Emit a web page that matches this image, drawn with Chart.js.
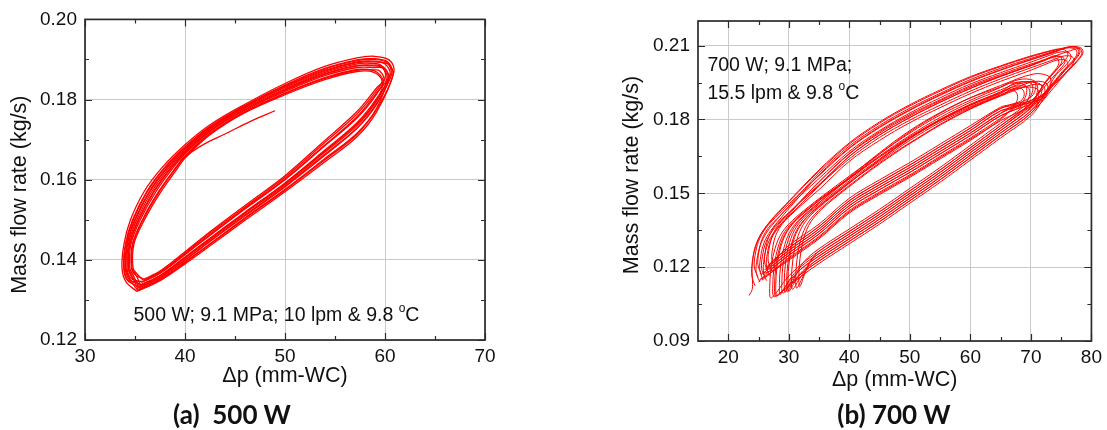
<!DOCTYPE html>
<html>
<head>
<meta charset="utf-8">
<script src="https://cdn.jsdelivr.net/npm/chart.js@4.4.1/dist/chart.umd.min.js"></script>
<style>
  body { margin: 0; width: 1107px; height: 430px; background: #fff; position: relative; overflow: hidden; }
  .panel { position: absolute; top: 0; height: 400px; }
  #wrapA { left: 0; width: 520px; }
  #wrapB { left: 600px; width: 507px; }
  .caption { position: absolute; top: 398px; width: 240px; text-align: center; line-height: 32px;
             font: bold 26px Lato, "Open Sans", sans-serif; white-space: pre; color: #111; }
</style>
</head>
<body>
<div class="panel" id="wrapA"><canvas id="chartA"></canvas></div>
<div class="panel" id="wrapB"><canvas id="chartB"></canvas></div>
<div class="caption" style="left:112px">(a)  500 W</div>
<div class="caption" style="left:774px">(b) 700 W</div>
<script>
// axis ticks
const aXTicks = [30, 40, 50, 60, 70];
const aXMinor = [35, 45, 55, 65];
const aYTicks = [0.12, 0.14, 0.16, 0.18, 0.20];
const aYMinor = [0.13, 0.15, 0.17, 0.19];
const bXTicks = [20, 30, 40, 50, 60, 70, 80];
const bXMinor = [25, 35, 45, 55, 65, 75];
const bYTicks = [0.09, 0.12, 0.15, 0.18, 0.21];
const bYMinor = [0.105, 0.135, 0.165, 0.195];

// (a) 500 W : [dp mm-WC, mass flow kg/s]
const aTail = [[49.0,0.1772],[46.5,0.1745],[44.0,0.1714],[42.0,0.1690],[40.6,0.1668],[39.6,0.1648]];
const aLoop1 = [[35.2,0.1321],[37.5,0.1348],[40,0.1390],[42.5,0.1435],[45.9,0.1497],[50,0.1570],[53.9,0.1643],[57.2,0.1707],[59.2,0.1771],[60.9,0.1870],[60.4,0.1899],[58.9,0.1908],[57.2,0.1904],[53.9,0.1882],[50,0.1840],[45.9,0.1787],[42.5,0.1737],[40,0.1687],[37.7,0.1630],[35.9,0.1570],[34.55,0.1500],[33.9,0.1440],[33.7,0.1380],[34.1,0.1345],[35.2,0.1321]];
const aLoop2 = [[35.6,0.1338],[37.5,0.1361],[40,0.1407],[42.5,0.1454],[45.9,0.1517],[50,0.1592],[53.9,0.1672],[57.2,0.1742],[59.2,0.1804],[60.5,0.1863],[60.0,0.1889],[58.9,0.1896],[57.2,0.1894],[53.9,0.1872],[50,0.1832],[45.9,0.1781],[42.5,0.1730],[40,0.1677],[38.18,0.1630],[36.41,0.1570],[34.97,0.1500],[34.2,0.1440],[34.03,0.1380],[34.43,0.1351],[35.6,0.1338]];
const aLoop3 = [[35.31,0.1326],[37.5,0.1352],[40,0.1395],[42.5,0.1440],[45.9,0.1503],[50,0.1576],[53.9,0.1651],[57.2,0.1716],[59.2,0.1780],[60.2,0.1855],[59.7,0.1880],[58.9,0.1884],[57.2,0.1884],[53.9,0.1862],[50,0.1823],[45.9,0.1774],[42.5,0.1722],[40,0.1667],[38.66,0.1630],[36.92,0.1570],[35.39,0.1500],[34.5,0.1440],[34.36,0.1380],[34.76,0.1357],[35.31,0.1326]];
const aLoop4 = [[35.83,0.1349],[37.5,0.1370],[40,0.1417],[42.5,0.1467],[45.9,0.1530],[50,0.1606],[53.9,0.1691],[57.2,0.1764],[59.2,0.1824],[59.7,0.1847],[58.9,0.1868],[57.2,0.1870],[53.9,0.1849],[50,0.1812],[45.9,0.1766],[42.5,0.1712],[40,0.1654],[39.3,0.1630],[37.6,0.1570],[35.95,0.1500],[34.9,0.1440],[34.8,0.1380],[35.2,0.1365],[35.83,0.1349]];
const aLoop5 = [[35.45,0.1332],[37.5,0.1356],[40,0.1400],[42.5,0.1447],[45.9,0.1510],[50,0.1584],[53.9,0.1662],[57.2,0.1729],[59.2,0.1792],[60.7,0.1866],[60.25,0.1894],[58.9,0.1902],[57.2,0.1899],[53.9,0.1877],[50,0.1836],[45.9,0.1784],[42.5,0.1733],[40,0.1682],[37.94,0.1630],[36.16,0.1570],[34.76,0.1500],[34.05,0.1440],[33.87,0.1380],[34.27,0.1348],[35.45,0.1332]];
const aLoop6 = [[35.9,0.1352],[37.5,0.1372],[40,0.1420],[42.5,0.1470],[45.9,0.1534],[50,0.1610],[53.9,0.1696],[57.2,0.1770],[59.2,0.1830],[59.9,0.1849],[59.45,0.1872],[58.9,0.1874],[57.2,0.1875],[53.9,0.1854],[50,0.1816],[45.9,0.1769],[42.5,0.1716],[40,0.1659],[39.06,0.1630],[37.35,0.1570],[35.74,0.1500],[34.75,0.1440],[34.64,0.1380],[35.04,0.1362],[35.9,0.1352]];
const aLoop7 = [[35.73,0.1344],[37.5,0.1366],[40,0.1413],[42.5,0.1461],[45.9,0.1525],[50,0.1600],[53.9,0.1683],[57.2,0.1754],[59.2,0.1815],[60.05,0.1859],[59.6,0.1885],[58.9,0.1890],[57.2,0.1889],[53.9,0.1867],[50,0.1827],[45.9,0.1778],[42.5,0.1726],[40,0.1672],[38.42,0.1630],[36.67,0.1570],[35.18,0.1500],[34.35,0.1440],[34.2,0.1380],[34.6,0.1354],[35.73,0.1344]];
const aLoop8 = [[35.41,0.1330],[37.5,0.1355],[40,0.1399],[42.5,0.1446],[45.9,0.1508],[50,0.1582],[53.9,0.1659],[57.2,0.1728],[59.2,0.1789],[60.4,0.1853],[59.95,0.1877],[58.9,0.1880],[57.2,0.1880],[53.9,0.1859],[50,0.1820],[45.9,0.1772],[42.5,0.1720],[40,0.1664],[38.82,0.1630],[37.09,0.1570],[35.53,0.1500],[34.6,0.1440],[34.47,0.1380],[34.87,0.1359],[35.41,0.1330]];
const aLoop9 = [[35.76,0.1346],[37.5,0.1367],[40,0.1414],[42.5,0.1463],[45.9,0.1527],[50,0.1602],[53.9,0.1685],[57.2,0.1757],[59.2,0.1818],[60.6,0.1865],[60.15,0.1893],[58.9,0.1900],[57.2,0.1897],[53.9,0.1875],[50,0.1834],[45.9,0.1783],[42.5,0.1732],[40,0.1680],[38.02,0.1630],[36.24,0.1570],[34.83,0.1500],[34.1,0.1440],[33.92,0.1380],[34.32,0.1349],[35.76,0.1346]];
const aLoop10 = [[35.55,0.1337],[37.5,0.1360],[40,0.1405],[42.5,0.1453],[45.9,0.1516],[50,0.1590],[53.9,0.1670],[57.2,0.1739],[59.2,0.1801],[59.8,0.1848],[58.9,0.1872],[57.2,0.1873],[53.9,0.1852],[50,0.1815],[45.9,0.1768],[42.5,0.1715],[40,0.1657],[39.14,0.1630],[37.43,0.1570],[35.81,0.1500],[34.8,0.1440],[34.69,0.1380],[35.09,0.1363],[35.55,0.1337]];
const aLoop11 = [[35.52,0.1335],[37.5,0.1359],[40,0.1404],[42.5,0.1451],[45.9,0.1514],[50,0.1588],[53.9,0.1667],[57.2,0.1735],[59.2,0.1798],[60.3,0.1856],[59.85,0.1881],[58.9,0.1886],[57.2,0.1885],[53.9,0.1864],[50,0.1825],[45.9,0.1775],[42.5,0.1723],[40,0.1669],[38.58,0.1630],[36.84,0.1570],[35.32,0.1500],[34.45,0.1440],[34.31,0.1380],[34.71,0.1356],[35.52,0.1335]];
const aLoop12 = [[35.27,0.1324],[37.5,0.1350],[40,0.1393],[42.5,0.1439],[45.9,0.1501],[50,0.1574],[53.9,0.1648],[57.2,0.1713],[59.2,0.1777],[60.8,0.1861],[60.35,0.1888],[58.9,0.1894],[57.2,0.1892],[53.9,0.1870],[50,0.1830],[45.9,0.1780],[42.5,0.1728],[40,0.1675],[38.26,0.1630],[36.5,0.1570],[35.04,0.1500],[34.25,0.1440],[34.09,0.1380],[34.49,0.1352],[35.27,0.1324]];

// (b) 700 W : [dp mm-WC, mass flow kg/s]
const bCycle1 = [[23.45,0.1085],[23.95,0.1110],[24.0,0.1150],[23.9,0.1195],[24.1,0.1245],[24.7,0.1300],[25.8,0.1350],[27.5,0.1400],[30,0.1465],[35,0.1590],[40,0.1700],[45,0.1785],[50,0.1855],[55,0.1915],[60,0.1970],[65,0.2015],[70,0.2055],[74,0.2082],[76.8,0.2096],[78.3,0.2090],[78.6,0.2070],[77.8,0.2040],[76.2,0.1998],[74,0.1945],[70,0.1865],[65,0.1775],[60,0.1685],[55,0.1595],[50,0.1510],[45,0.1425],[40,0.1345],[35,0.1265],[32,0.1210],[29.5,0.1150],[28,0.1098],[27.0,0.1075],[26.85,0.1120],[27.05,0.1190],[27.55,0.1260],[28.5,0.1325],[30,0.1375],[32.5,0.1430],[35.5,0.1488],[40,0.1570],[45,0.1660],[50,0.1745],[55,0.1818],[60,0.1878],[65,0.1930],[68,0.1962],[70.5,0.1958],[70.8,0.1930],[70.1,0.1893],[67,0.1855],[65,0.1825],[60,0.1745],[55,0.1670],[50,0.1595],[45,0.1525],[40,0.1450],[35,0.1345],[30,0.1258],[27.5,0.1210],[25.5,0.1170]];
const bCycle2 = [[24.9,0.1160],[24.3,0.1200],[24.45,0.1250],[25.0,0.1305],[26.1,0.1355],[27.8,0.1402],[30,0.1456],[35,0.1572],[40,0.1682],[45,0.1767],[50,0.1837],[55,0.1898],[60,0.1953],[65,0.2000],[70,0.2042],[74,0.2074],[75.8,0.2090],[77.3,0.2086],[77.6,0.2066],[76.8,0.2036],[75.2,0.1995],[73,0.1930],[70,0.1845],[65,0.1755],[60,0.1665],[55,0.1575],[50,0.1490],[45,0.1405],[40,0.1325],[35,0.1245],[32,0.1192],[30,0.1140],[28.9,0.1102],[28.0,0.1085],[27.85,0.1130],[28.05,0.1200],[28.55,0.1270],[29.5,0.1335],[31,0.1385],[33.5,0.1440],[36.5,0.1498],[40,0.1558],[45,0.1648],[50,0.1730],[55,0.1800],[60,0.1860],[65,0.1912],[69,0.1950],[71.5,0.1945],[71.8,0.1915],[71.1,0.1880],[68,0.1860],[65,0.1845],[60,0.1765],[55,0.1690],[50,0.1615],[45,0.1545],[40,0.1470],[35,0.1365],[30,0.1278],[27.5,0.1228],[26,0.1188]];
const bCycle3 = [[25.5,0.1170],[24.9,0.1210],[25.05,0.1260],[25.6,0.1315],[26.7,0.1362],[28.4,0.1405],[30.5,0.1458],[35,0.1560],[40,0.1670],[45,0.1755],[50,0.1826],[55,0.1888],[60,0.1944],[65,0.1990],[70,0.2033],[73,0.2060],[74.8,0.2074],[76.3,0.2071],[76.6,0.2051],[75.8,0.2022],[74.2,0.1982],[72,0.1895],[70,0.1825],[65,0.1735],[60,0.1645],[55,0.1555],[50,0.1470],[45,0.1385],[40,0.1305],[35,0.1225],[32,0.1172],[30.2,0.1125],[29.0,0.1095],[28.85,0.1140],[29.05,0.1210],[29.55,0.1280],[30.5,0.1345],[32,0.1395],[34.5,0.1450],[37.5,0.1515],[40,0.1565],[45,0.1665],[50,0.1755],[55,0.1828],[60,0.1888],[65,0.1932],[66.5,0.1948],[69,0.1940],[69.3,0.1910],[68.6,0.1872],[66,0.1825],[65,0.1805],[60,0.1725],[55,0.1650],[50,0.1575],[45,0.1505],[40,0.1430],[35,0.1325],[30,0.1238],[27.5,0.1190],[26,0.1175]];
const bCycle4 = [[26.1,0.1155],[25.5,0.1195],[25.65,0.1245],[26.2,0.1300],[27.3,0.1348],[29,0.1395],[31.5,0.1457],[35,0.1535],[40,0.1650],[45,0.1737],[50,0.1808],[55,0.1870],[60,0.1926],[65,0.1975],[70,0.2018],[72.5,0.2042],[73.8,0.2055],[75.3,0.2052],[75.6,0.2032],[74.8,0.2004],[73.4,0.1965],[72,0.1925],[70,0.1875],[65,0.1785],[60,0.1695],[55,0.1605],[50,0.1520],[45,0.1435],[40,0.1355],[35,0.1275],[32.5,0.1222],[31.0,0.1160],[29.8,0.1100],[29.65,0.1145],[29.85,0.1215],[30.35,0.1285],[31.3,0.1350],[32.8,0.1400],[35.3,0.1455],[38.3,0.1513],[40,0.1545],[45,0.1630],[50,0.1715],[55,0.1788],[60,0.1848],[65,0.1898],[70,0.1952],[72.5,0.1948],[72.8,0.1915],[72.2,0.1890],[70,0.1868],[65,0.1835],[60,0.1755],[55,0.1680],[50,0.1605],[45,0.1535],[40,0.1460],[35,0.1355],[30,0.1268],[27.5,0.1220],[26.2,0.1192]];
const bCycle5 = [[26.6,0.1180],[26.0,0.1220],[26.15,0.1270],[26.7,0.1323],[27.8,0.1370],[29.5,0.1410],[32,0.1466],[35,0.1532],[40,0.1640],[45,0.1727],[50,0.1797],[55,0.1858],[60,0.1915],[65,0.1965],[70,0.2010],[74,0.2045],[75.5,0.2058],[76.8,0.2055],[77.1,0.2035],[76.3,0.2005],[74.7,0.1965],[72.5,0.1908],[70,0.1835],[65,0.1745],[60,0.1655],[55,0.1565],[50,0.1480],[45,0.1395],[40,0.1315],[35,0.1235],[33,0.1195],[31.7,0.1150],[30.6,0.1110],[30.45,0.1155],[30.65,0.1225],[31.15,0.1295],[32.1,0.1360],[33.6,0.1410],[36.1,0.1465],[39.1,0.1523],[42,0.1580],[45,0.1635],[50,0.1725],[55,0.1800],[60,0.1862],[65,0.1912],[67.5,0.1950],[70,0.1948],[70.3,0.1918],[69.6,0.1882],[68,0.1848],[65,0.1815],[60,0.1735],[55,0.1660],[50,0.1585],[45,0.1515],[40,0.1440],[35,0.1335],[30,0.1248],[28,0.1208],[26.8,0.1190]];
const bCycle6 = [[27.2,0.1185],[26.6,0.1225],[26.75,0.1275],[27.3,0.1328],[28.4,0.1375],[30.1,0.1420],[32.5,0.1483],[35,0.1545],[40,0.1660],[45,0.1745],[50,0.1815],[55,0.1876],[60,0.1932],[65,0.1978],[70,0.2020],[72,0.2040],[73.2,0.2050],[74.4,0.2046],[74.6,0.2026],[73.9,0.1998],[72.6,0.1960],[71,0.1898],[70,0.1862],[65,0.1765],[60,0.1675],[55,0.1585],[50,0.1500],[45,0.1415],[40,0.1335],[35,0.1255],[33.5,0.1222],[32.3,0.1160],[31.3,0.1115],[31.15,0.1160],[31.35,0.1230],[31.85,0.1300],[32.8,0.1365],[34.3,0.1415],[36.8,0.1470],[39.8,0.1528],[43,0.1588],[47,0.1658],[50,0.1705],[55,0.1780],[60,0.1845],[65,0.1898],[67,0.1925],[68.5,0.1925],[68.9,0.1900],[68.3,0.1875],[66.5,0.1860],[65,0.1850],[60,0.1775],[55,0.1700],[50,0.1625],[45,0.1555],[40,0.1480],[35,0.1375],[30,0.1288],[28.5,0.1250],[27.3,0.1215]];
const bCycle7 = [[27.8,0.1190],[27.2,0.1230],[27.35,0.1280],[27.9,0.1332],[29,0.1378],[30.7,0.1420],[33,0.1472],[35,0.1515],[40,0.1630],[45,0.1715],[50,0.1787],[55,0.1848],[60,0.1905],[65,0.1955],[70,0.2000],[73,0.2030],[74.5,0.2042],[75.8,0.2040],[76.1,0.2020],[75.3,0.1992],[73.8,0.1945],[72,0.1880],[70,0.1815],[65,0.1725],[60,0.1635],[55,0.1545],[50,0.1460],[45,0.1375],[40,0.1295],[35,0.1215],[32,0.1162],[29.8,0.1118],[28.4,0.1092],[27.5,0.1080],[27.35,0.1125],[27.55,0.1195],[28.05,0.1265],[29,0.1330],[30.5,0.1380],[33,0.1435],[36,0.1493],[40,0.1562],[45,0.1648],[50,0.1725],[55,0.1795],[60,0.1852],[65,0.1900],[68.5,0.1930],[71,0.1925],[71.3,0.1898],[70.6,0.1862],[68,0.1830],[65,0.1795],[60,0.1715],[55,0.1640],[50,0.1565],[45,0.1495],[40,0.1420],[35,0.1315],[30,0.1228],[27.5,0.1185],[25.2,0.1150]];
const bCycle8 = [[25.2,0.1140],[24.6,0.1180],[24.75,0.1232],[25.3,0.1290],[26.4,0.1343],[28.1,0.1395],[30.4,0.1458],[35,0.1582],[40,0.1692],[45,0.1776],[50,0.1846],[55,0.1906],[60,0.1962],[65,0.2008],[70,0.2048],[74,0.2078],[76.3,0.2095],[77.8,0.2092],[78.1,0.2072],[77.3,0.2042],[75.7,0.2000],[73.5,0.1940],[70,0.1855],[65,0.1765],[60,0.1675],[55,0.1585],[50,0.1500],[45,0.1415],[40,0.1335],[35,0.1255],[32,0.1202],[30,0.1145],[28.6,0.1090],[28.45,0.1135],[28.65,0.1205],[29.15,0.1275],[30.1,0.1340],[31.6,0.1390],[34.1,0.1445],[37.1,0.1503],[40,0.1560],[45,0.1660],[50,0.1750],[55,0.1825],[60,0.1888],[65,0.1938],[70.5,0.1985],[73,0.1975],[73.3,0.1945],[72.6,0.1905],[70,0.1878],[65,0.1825],[60,0.1745],[55,0.1670],[50,0.1595],[45,0.1525],[40,0.1450],[35,0.1345],[30,0.1258],[27.5,0.1210],[25.8,0.1175]];
const bCycle9 = [[25.7,0.1150],[25.2,0.1190],[25.35,0.1242],[25.9,0.1298],[27.0,0.1348],[28.7,0.1400],[30.8,0.1460],[35,0.1575],[40,0.1685],[45,0.1770],[50,0.1840],[55,0.1901],[60,0.1956],[65,0.2002],[70,0.2044],[74,0.2076],[76.2,0.2093],[77.6,0.2090],[77.9,0.2070],[77.1,0.2040],[75.5,0.1998],[73.3,0.1935],[70,0.1835],[65,0.1745],[60,0.1655],[55,0.1565],[50,0.1480],[45,0.1395],[40,0.1315],[35,0.1235],[32.3,0.1185],[31,0.1140],[30.0,0.1102],[29.85,0.1147],[30.05,0.1217],[30.55,0.1287],[31.5,0.1352],[33,0.1402],[35.5,0.1457],[38.5,0.1515],[41.5,0.1572],[45,0.1636],[50,0.1722],[55,0.1796],[60,0.1858],[65,0.1908],[67.5,0.1935],[69.5,0.1930],[69.8,0.1902],[69.1,0.1868],[67,0.1845],[65,0.1835],[60,0.1755],[55,0.1680],[50,0.1605],[45,0.1535],[40,0.1460],[35,0.1355],[30,0.1268],[27.5,0.1220],[26.3,0.1190]];
const bCycle10 = [[24.4,0.1125],[23.9,0.1165],[24.0,0.1220],[24.5,0.1282],[25.5,0.1338],[27.2,0.1395],[29.5,0.1455],[35,0.1595],[40,0.1705],[45,0.1790],[50,0.1860],[55,0.1920],[60,0.1974],[65,0.2018],[70,0.2058],[73,0.2078],[74.5,0.2086],[75.8,0.2080],[76.1,0.2060],[75.3,0.2030],[73.8,0.1990],[71.8,0.1930],[70,0.1865],[65,0.1775],[60,0.1685],[55,0.1595],[50,0.1510],[45,0.1425],[40,0.1345],[35,0.1265],[33.6,0.1225],[32.6,0.1170],[31.8,0.1120],[31.65,0.1165],[31.85,0.1235],[32.35,0.1305],[33.3,0.1370],[34.8,0.1420],[37.3,0.1475],[40.3,0.1533],[43.5,0.1593],[47.5,0.1662],[50,0.1702],[55,0.1777],[60,0.1842],[65,0.1895],[70,0.1940],[72,0.1938],[72.3,0.1908],[71.6,0.1874],[70,0.1862],[65,0.1815],[60,0.1735],[55,0.1660],[50,0.1585],[45,0.1515],[40,0.1440],[35,0.1335],[30,0.1248],[27.5,0.1200],[25,0.1140]];
const bCycle11 = [[26.8,0.1165],[26.3,0.1205],[26.45,0.1255],[27.0,0.1308],[28.1,0.1355],[29.8,0.1402],[32.3,0.1463],[35,0.1530],[40,0.1650],[45,0.1737],[50,0.1808],[55,0.1870],[60,0.1926],[65,0.1975],[70,0.2020],[74,0.2058],[76.6,0.2080],[78.1,0.2088],[78.4,0.2068],[77.6,0.2038],[76,0.1995],[73.8,0.1930],[70,0.1825],[65,0.1735],[60,0.1645],[55,0.1555],[50,0.1470],[45,0.1385],[40,0.1305],[35,0.1225],[32,0.1172],[29.6,0.1118],[28.5,0.1092],[27.8,0.1082],[27.65,0.1127],[27.85,0.1197],[28.35,0.1267],[29.3,0.1332],[30.8,0.1382],[33.3,0.1437],[36.3,0.1495],[40,0.1562],[45,0.1652],[50,0.1735],[55,0.1808],[60,0.1870],[65,0.1920],[68.5,0.1952],[70.8,0.1948],[71.1,0.1918],[70.4,0.1880],[68,0.1866],[65,0.1845],[60,0.1765],[55,0.1690],[50,0.1615],[45,0.1545],[40,0.1470],[35,0.1365],[30,0.1278],[27.5,0.1230],[26.5,0.1205]];
const bCycle12 = [[26.3,0.1145],[25.8,0.1185],[25.95,0.1237],[26.5,0.1293],[27.6,0.1343],[29.3,0.1392],[31.7,0.1460],[35,0.1548],[40,0.1662],[45,0.1750],[50,0.1820],[55,0.1880],[60,0.1937],[65,0.1983],[70,0.2025],[72.5,0.2045],[73.7,0.2058],[74.9,0.2055],[75.1,0.2035],[74.4,0.2007],[73.0,0.1968],[71.3,0.1910],[70,0.1850],[65,0.1755],[60,0.1665],[55,0.1575],[50,0.1490],[45,0.1405],[40,0.1325],[35,0.1245],[32,0.1192],[30.3,0.1140],[29.4,0.1098],[29.25,0.1143],[29.45,0.1213],[29.95,0.1283],[30.9,0.1348],[32.4,0.1398],[34.9,0.1453],[37.9,0.1511],[40.5,0.1560],[45,0.1640],[50,0.1725],[55,0.1798],[60,0.1858],[65,0.1905],[66.2,0.1920],[67.5,0.1912],[67.8,0.1885],[67.1,0.1852],[65,0.1800],[60,0.1720],[55,0.1645],[50,0.1570],[45,0.1500],[40,0.1425],[35,0.1320],[30,0.1233],[27.5,0.1185],[25.6,0.1148]];

const FONT = '"Liberation Sans", Arial, sans-serif';

// box round the plot with inward major / minor ticks on all four sides
const framePlugin = {
  id: 'frame',
  afterDatasetsDraw(chart, args, opts) {
    const {ctx, chartArea: {left, top, right, bottom}, scales: {x, y}} = chart;
    ctx.save();
    ctx.strokeStyle = '#2b2b2b';
    ctx.lineWidth = 1.2;
    ctx.beginPath();
    const xt = (vals, len) => vals.forEach(v => {
      const px = Math.round(x.getPixelForValue(v)) + 0.5;
      ctx.moveTo(px, bottom); ctx.lineTo(px, bottom - len);
      ctx.moveTo(px, top); ctx.lineTo(px, top + len);
    });
    const yt = (vals, len) => vals.forEach(v => {
      const py = Math.round(y.getPixelForValue(v)) + 0.5;
      ctx.moveTo(left, py); ctx.lineTo(left + len, py);
      ctx.moveTo(right, py); ctx.lineTo(right - len, py);
    });
    xt(opts.xMajor, 7); xt(opts.xMinor, 4);
    yt(opts.yMajor, 7); yt(opts.yMinor, 4);
    ctx.stroke();
    ctx.lineWidth = 1.7;
    ctx.strokeRect(left, top, right - left, bottom - top);
    ctx.restore();
  }
};

// condition note inside the plot, with a raised small "o" for the degree sign
const notePlugin = {
  id: 'note',
  afterDraw(chart, args, opts) {
    const {ctx, scales: {x, y}} = chart;
    ctx.save();
    ctx.fillStyle = '#111';
    ctx.textBaseline = 'middle';
    ctx.textAlign = 'left';
    opts.lines.forEach(line => {
      let px = x.getPixelForValue(line.x);
      const py = y.getPixelForValue(line.y);
      line.parts.forEach(part => {
        if (part.startsWith('^')) {
          ctx.font = Math.round(opts.size * 0.62) + 'px ' + FONT;
          ctx.fillText(part.slice(1), px, py - opts.size * 0.36);
          px += ctx.measureText(part.slice(1)).width;
        } else {
          ctx.font = opts.size + 'px ' + FONT;
          ctx.fillText(part, px, py);
          px += ctx.measureText(part).width;
        }
      });
    });
    ctx.restore();
  }
};

function makeChart(id, loops, c) {
  const ds = loops.map(pts => ({
    data: pts, showLine: true, borderColor: '#ff0000', borderWidth: c.lw,
    pointRadius: 0, tension: 0.35, fill: false
  }));
  return new Chart(document.getElementById(id), {
    type: 'scatter',
    data: { datasets: ds },
    options: {
      responsive: true,
      maintainAspectRatio: false,
      animation: false,
      events: [],
      layout: { padding: c.pad },
      plugins: {
        legend: { display: false },
        tooltip: { enabled: false },
        frame: { xMajor: c.xTicks, xMinor: c.xMinor, yMajor: c.yTicks, yMinor: c.yMinor },
        note: { size: 19.5, lines: c.note }
      },
      scales: {
        x: {
          type: 'linear', min: c.xMin, max: c.xMax,
          afterBuildTicks: s => { s.ticks = c.xTicks.map(v => ({ value: v })); },
          afterFit: s => { s.height = c.xHeight; },
          grid: { color: '#cacaca', lineWidth: 1, drawTicks: false },
          border: { display: false },
          ticks: { autoSkip: false, maxRotation: 0, padding: 5, color: '#111',
                   font: { family: FONT, size: 19 }, callback: v => String(v) },
          title: { display: true, text: 'Δp (mm-WC)', color: '#111',
                   font: { family: FONT, size: 21.5 }, padding: { top: 0, bottom: c.xTitlePad } }
        },
        y: {
          type: 'linear', min: c.yMin, max: c.yMax,
          afterBuildTicks: s => { s.ticks = c.yTicks.map(v => ({ value: v })); },
          afterFit: s => { s.width = c.yWidth; },
          grid: { color: '#cacaca', lineWidth: 1, drawTicks: false },
          border: { display: false },
          ticks: { autoSkip: false, padding: 8, color: '#111',
                   font: { family: FONT, size: 19 }, callback: v => v.toFixed(2) },
          title: { display: true, text: c.yTitle, color: '#111',
                   font: { family: FONT, size: 21.5 }, padding: { top: c.yTitlePad, bottom: 0 } }
        }
      }
    },
    plugins: [framePlugin, notePlugin]
  });
}

makeChart('chartA', [aLoop1, aLoop2, aLoop3, aLoop4, aLoop5, aLoop6, aLoop7, aLoop8,
                     aLoop9, aLoop10, aLoop11, aLoop12, aTail], {
  lw: 1.3,
  pad: { left: 0, top: 17, right: 35, bottom: 0 },
  xMin: 30, xMax: 70, yMin: 0.12, yMax: 0.20,
  xTicks: aXTicks, xMinor: aXMinor, yTicks: aYTicks, yMinor: aYMinor,
  xHeight: 60, yWidth: 85, xTitlePad: 11, yTitlePad: 7,
  yTitle: 'Mass flow rate (kg/s)     ',
  note: [{ x: 34.85, y: 0.1261, parts: ['500 W; 9.1 MPa; 10 lpm & 9.8 ', '^o', 'C'] }]
});

makeChart('chartB', [bCycle1, bCycle2, bCycle3, bCycle4, bCycle5, bCycle6, bCycle7, bCycle8,
                     bCycle9, bCycle10, bCycle11, bCycle12], {
  lw: 1.0,
  pad: { left: 0, top: 21, right: 12, bottom: 0 },
  xMin: 15, xMax: 80, yMin: 0.09, yMax: 0.22,
  xTicks: bXTicks, xMinor: bXMinor, yTicks: bYTicks, yMinor: bYMinor,
  xHeight: 59, yWidth: 98, xTitlePad: 7, yTitlePad: 19,
  yTitle: '  Mass flow rate (kg/s)',
  note: [
    { x: 16.55, y: 0.2020, parts: ['700 W; 9.1 MPa;'] },
    { x: 16.55, y: 0.1905, parts: ['15.5 lpm & 9.8 ', '^o', 'C'] }
  ]
});
</script>
</body>
</html>
